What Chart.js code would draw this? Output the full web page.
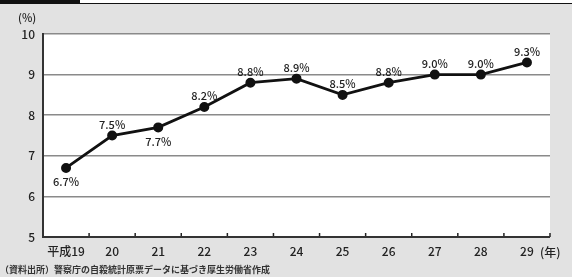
<!DOCTYPE html>
<html><head><meta charset="utf-8">
<script src="https://cdn.jsdelivr.net/npm/chart.js@4"></script>
<style>
html,body{margin:0;padding:0;background:#e2e2e2;}
#wrap{position:relative;width:572px;height:277px;overflow:hidden;background:#e2e2e2;}
#topline{position:absolute;left:0;top:0;width:572px;height:3px;background:#fff;border-bottom:1px solid #111;}
#topblk{position:absolute;left:0;top:0;width:80px;height:4px;background:#111;}
canvas{position:absolute;left:0;top:0;}
.t{position:absolute;font-family:"Noto Sans CJK JP",sans-serif;color:#222;white-space:nowrap;font-weight:500;}
</style></head><body>
<div id="wrap">
<div id="topline"></div><div id="topblk"></div>
<canvas id="c" width="572" height="277"></canvas>
<div class="t" style="left:18px;top:9px;font-size:11px;">(%)</div>
<div class="t" style="left:540px;top:243px;font-size:12px;">(年)</div>
<div class="t" style="left:0px;top:263px;font-size:9px;font-weight:bold;color:#333;">（資料出所）警察庁の自殺統計原票データに基づき厚生労働省作成</div>
</div>
<script>
const categories = ["平成19","20","21","22","23","24","25","26","27","28","29"];
const values = [6.7,7.5,7.7,8.2,8.8,8.9,8.5,8.8,9.0,9.0,9.3];
const valueLabels = ["6.7%","7.5%","7.7%","8.2%","8.8%","8.9%","8.5%","8.8%","9.0%","9.0%","9.3%"];
const labelBelow = [true,false,true,false,false,false,false,false,false,false,false];
const yTicks = [5,6,7,8,9,10];

const bgPlugin = {
  id:'bg',
  beforeDraw(chart){
    const {ctx, chartArea:a} = chart;
    ctx.save(); ctx.fillStyle='#fff';
    ctx.fillRect(a.left,a.top,a.right-a.left,a.bottom-a.top);
    ctx.restore();
  }
};
const tickPlugin = {
  id:'xticks',
  afterDatasetsDraw(chart){
    const {ctx, chartArea:a} = chart;
    const xs = chart.scales.x;
    ctx.save(); ctx.strokeStyle='#222'; ctx.lineWidth=1.5;
    for(let i=0;i<categories.length;i++){
      const p = xs.getPixelForValue(i);
      const half = (i+1<categories.length? xs.getPixelForValue(i+1)-p : p-xs.getPixelForValue(i-1))/2;
      const bx = p+half;
      ctx.beginPath(); ctx.moveTo(bx,a.bottom); ctx.lineTo(bx,a.bottom-4); ctx.stroke();
    }
    ctx.strokeStyle='#333'; ctx.lineWidth=2;
    ctx.beginPath(); ctx.moveTo(a.left,a.top-1); ctx.lineTo(a.left,a.bottom); ctx.lineTo(a.right,a.bottom); ctx.stroke();
    ctx.restore();
  }
};
const labelPlugin = {
  id:'vlabels',
  afterDatasetsDraw(chart){
    const {ctx} = chart;
    const meta = chart.getDatasetMeta(0);
    ctx.save();
    ctx.font = '500 11px "Noto Sans CJK JP", sans-serif';
    ctx.fillStyle = '#222'; ctx.textAlign='center'; ctx.textBaseline='middle';
    meta.data.forEach((pt,i)=>{
      const y = labelBelow[i] ? pt.y+14 : pt.y-11;
      ctx.fillText(valueLabels[i], pt.x, y);
    });
    ctx.restore();
  }
};

new Chart(document.getElementById('c'),{
  type:'line',
  data:{labels:categories,datasets:[{data:values,borderColor:'#111',borderWidth:2.8,
    pointRadius:3.6,pointBackgroundColor:'#111',pointBorderColor:'#111',tension:0}]},
  options:{
    responsive:false,animation:false,
    layout:{padding:{top:34,right:22,left:0,bottom:0}},
    plugins:{legend:{display:false},tooltip:{enabled:false}},
    scales:{
      x:{offset:true,
        grid:{display:false,drawTicks:false},
        border:{display:false},
        ticks:{padding:7,color:'#222',font:{family:'"Noto Sans CJK JP", sans-serif',size:12,weight:'500'}},
        afterFit(s){s.height=40;}
      },
      y:{min:5,max:10,
        afterBuildTicks(s){s.ticks=yTicks.map(v=>({value:v}));},
        grid:{color:'#8a8a8a',lineWidth:1.5,drawTicks:false},
        border:{display:false},
        ticks:{padding:8,color:'#222',font:{family:'"Noto Sans CJK JP", sans-serif',size:12,weight:'500'}},
        afterFit(s){s.width=43;}
      }
    }
  },
  plugins:[bgPlugin,tickPlugin,labelPlugin]
});
</script>
</body></html>
